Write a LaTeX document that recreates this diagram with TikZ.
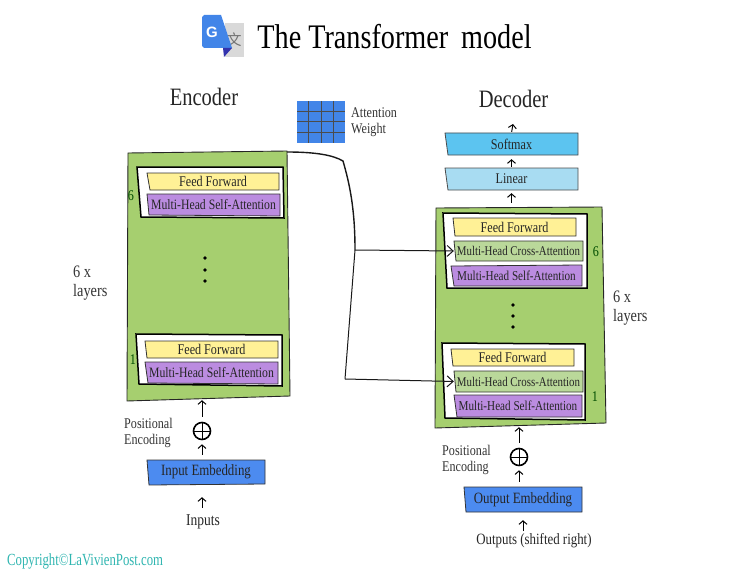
\documentclass[tikz,border=0pt]{standalone}
\usepackage{fontspec}
\setmainfont[FakeStretch=0.82]{Liberation Serif}
\newfontfamily\cjkfont{Noto Sans CJK SC}
\newfontfamily\logofont{Liberation Sans}
\newfontfamily\copyfont[FakeStretch=0.75]{Liberation Serif}
\newcommand{\crossfont}{\fontsize{13.3}{14}\selectfont}
\newcommand{\embfont}{\fontsize{15.7}{16}\selectfont}
\newcommand{\selffont}{\fontsize{14.3}{15}\selectfont}
\newcommand{\dselffont}{\fontsize{13.6}{15}\selectfont}
\usetikzlibrary{arrows.meta,fit}
\definecolor{bodyGreen}{RGB}{166,207,111}
\definecolor{ffYellow}{RGB}{255,241,150}
\definecolor{selfPurple}{RGB}{187,140,224}
\definecolor{crossGreen}{RGB}{186,216,154}
\definecolor{embBlue}{RGB}{76,139,240}
\definecolor{softBlue}{RGB}{92,196,240}
\definecolor{linBlue}{RGB}{168,220,242}
\definecolor{logoBlue}{RGB}{66,133,232}
\definecolor{copyTeal}{RGB}{47,181,176}

\begin{document}
\begin{tikzpicture}[x=1pt,y=-1pt,
      body/.style={fill=bodyGreen,draw=black!85,line width=.9pt},
      layer/.style={fill=white,draw=black,line width=1.5pt},
      ff/.style={fill=ffYellow,draw=black!80,line width=.8pt},
      self/.style={fill=selfPurple,draw=black!80,line width=.8pt},
      cross/.style={fill=crossGreen,draw=black!80,line width=.8pt},
      emb/.style={fill=embBlue,draw=black!80,line width=.8pt},
      soft/.style={fill=softBlue,draw=black!70,line width=.8pt},
      lin/.style={fill=linBlue,draw=black!70,line width=.8pt},
      lab/.style={inner sep=0pt,font=\fontsize{14.8}{15}\selectfont,text=black!85},
      side/.style={inner sep=0pt,align=left,font=\fontsize{17.5}{19}\selectfont,text=black!80},
      small/.style={side,font=\fontsize{14.8}{15.5}\selectfont},
      head/.style={inner sep=0pt,font=\fontsize{25}{25}\selectfont,text=black!85},
      dot/.style={circle,fill=black,inner sep=1.3pt},
      add/.style={circle,draw=black,line width=1.6pt,inner sep=0pt,minimum size=17pt},
      uparrow/.style={line width=1pt,-{Straight Barb[length=3.5pt,width=8pt]},shorten >=4pt,shorten <=5pt},
      wire/.style={black!90,line width=1pt},
      tap/.style={wire,-{Straight Barb[length=6pt,width=11pt]}}]
    \useasboundingbox (0,0) rectangle (736,575);
    % boxes, back to front
    \foreach \name/\sty/\nw/\ne/\se/\sw/\txt in {
        {encbody/body/128,153/287,151/290,396/127,401/},
        {enctop/layer/137,167/283,167/284,218/141,217/},
        {encff/ff/147,173/279,173/279,190/150,190/Feed Forward},
        {encself/self/147,194/280,194/280,216/149,215/\selffont Multi-Head Self-Attention},
        {encbot/layer/136,334/282,335/282,386/139,384/},
        {enffb/ff/145,341/278,341/278,358/147,358/Feed Forward},
        {enselfb/self/145,362/278,362/278,384/148,383/\selffont Multi-Head Self-Attention},
        {inemb/emb/147,460/265,460/265,484/149,485/\embfont Input Embedding},
        {softmax/soft/445,133/578,133/578,155/448,155/Softmax},
        {linear/lin/445,168/578,168/578,190/448,190/Linear},
        {decbody/body/436,208/602,207/606,423/435,428/},
        {dectop/layer/443,213/587,214/587,288/447,288/},
        {decff/ff/453,218/576,218/576,236/455,236/Feed Forward},
        {xtop/cross/454,241/583,241/583,261/456,261/\crossfont Multi-Head Cross-Attention},
        {decself/self/451,266/582,265/582,286/454,286/\dselffont Multi-Head Self-Attention},
        {decbot/layer/442,343/585,344/585,420/445,418/},
        {deffb/ff/451,349/574,349/574,366/453,366/Feed Forward},
        {xbot/cross/454,371/583,371/583,392/456,392/\crossfont Multi-Head Cross-Attention},
        {deselfb/self/454,395/582,395/582,417/457,417/\dselffont Multi-Head Self-Attention},
        {outemb/emb/464,487/582,487/582,512/466,512/\embfont Output Embedding}} {
      \draw[\sty] (\nw) -- (\ne) -- (\se) -- (\sw) -- cycle;
      \node[fit={(\nw)(\se)},inner sep=0pt] (\name) {};
      \node[lab] (\name txt) at (\name) {\txt};
    }
    % logo and title
    \fill[black!15] (225,23) rectangle (244,57);
    \node[inner sep=0pt,text=black!55,font=\cjkfont\fontsize{15}{15}\selectfont] (wen) at (234,40) {文};
    \fill[logoBlue] (204,15) -- (221,15) -- (232,48) -- (204,48) -- (202,46) -- (202,17) -- cycle;
    \fill[blue!60!black!80] (223,48) -- (232,48) -- (224,57) -- cycle;
    \node[inner sep=0pt,text=white,font=\logofont\bfseries\fontsize{15}{15}\selectfont] (gee) at (212,32) {G};
    \node[inner sep=0pt,font=\fontsize{34.4}{35}\selectfont] (title) at (394.5,37) {The Transformer\, model};
    \node[head] (enchead) at (204,97) {Encoder};
    \node[head] (dechead) at (513.5,99) {Decoder};
    % attention grid
    \node[fill=logoBlue,inner sep=0pt,minimum width=48pt,minimum height=42pt] (attn) at (321,122) {};
    \foreach \x in {308,321,333}
      \draw[black!70,line width=.6pt] (\x,101) -- (\x,143);
    \foreach \y in {111,121,132}
      \draw[black!70,line width=.6pt] (297,\y) -- (345,\y);
    \node[small,anchor=west] (attnlab) at (351,122) {Attention\\Weight};
    % side labels
    \node[side,anchor=west] (enclayers) at (73,283) {6 x\\layers};
    \node[side,anchor=west] (declayers) at (613,308) {6 x\\layers};
    \node[small,anchor=west] (encpos) at (124,433) {Positional\\Encoding};
    \node[small,anchor=west] (decpos) at (442,460) {Positional\\Encoding};
    \foreach \x/\y/\num/\name in {131/196/6/numa,133/360/1/numb,596/252/6/numc,595/397/1/numd}
      \node[lab,text=black!70!green] (\name) at (\x,\y) {\num};
    \foreach \x/\y/\name in {205/258/da,205/270/db,205/281/dc,513/305/dd,513/316/de,513/327/df}
      \node[dot] (\name) at (\x,\y) {};
    % plus circles and captions
    \node[add] (addenc) at (202,431) {};
    \node[add] (adddec) at (519,457) {};
    \draw[line width=1pt] (addenc.west) -- (addenc.east) (addenc.north) -- (addenc.south);
    \draw[line width=1pt] (adddec.west) -- (adddec.east) (adddec.north) -- (adddec.south);
    \node[lab,font=\fontsize{16.5}{17}\selectfont] (inputs) at (203,522) {Inputs};
    \node[lab,font=\embfont] (outputs) at (534,541) {Outputs (shifted right)};
    \node[inner sep=0pt,anchor=west,text=copyTeal,font=\copyfont\fontsize{17}{17}\selectfont] (copy) at (7,561) {Copyright©LaVivienPost.com};
    % small arrows
    \coordinate (toptip) at (513,124);
    \coordinate (outup) at (523,531);
    \draw[uparrow,shorten <=7pt,shorten >=13pt] (inputs.north -| addenc) -- (inemb.south -| addenc);
    \draw[uparrow] (inemb.north -| addenc) -- (addenc.south);
    \draw[uparrow] (addenc.north) -- (addenc |- encbody.south);
    \draw[uparrow] (adddec.north) -- (adddec |- decbody.south);
    \draw[uparrow] (outemb.north -| adddec) -- (adddec.south);
    \draw[uparrow,shorten <=0pt,shorten >=8pt] (outup) -- (outemb.south -| outup);
    \draw[uparrow,shorten >=3pt] (decbody.north -| linear) -- (linear.south);
    \draw[uparrow,shorten <=1pt] (linear.north) -- (softmax.south);
    \draw[uparrow,shorten <=1pt,shorten >=0pt] (softmax.north) -- (toptip);
    % attention weights going over to the decoder
    \coordinate (enccorner) at (287,152);
    \coordinate (split) at (355,250);
    \coordinate (turn) at (345,379);
    \draw[wire,line width=1.4pt] (enccorner) .. controls (315,152) and (333,155) .. (343,161) .. controls (350,185) and (355,210) .. (split);
    \draw[wire] (split) -- (turn);
    \draw[tap] (split) -- (xtop.west);
    \draw[tap] (turn) -- (xbot.west);
  \end{tikzpicture}
\end{document}
